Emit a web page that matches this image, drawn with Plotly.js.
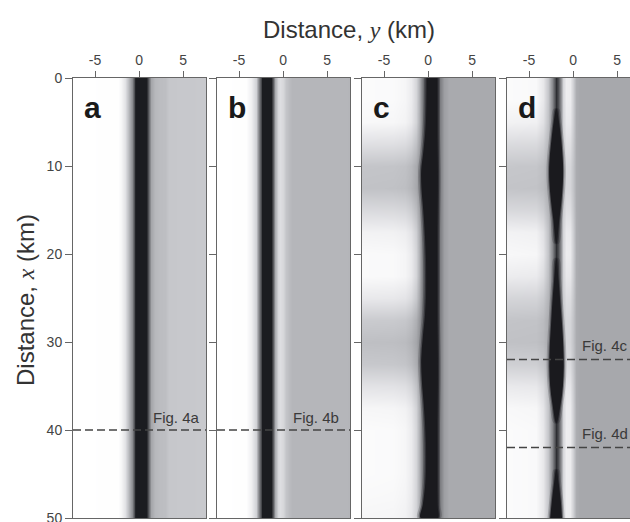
<!DOCTYPE html>
<html><head><meta charset="utf-8">
<script src="https://cdn.plot.ly/plotly-3.0.1.min.js"></script>
<style>html,body{margin:0;padding:0;overflow:hidden;background:#fff;width:630px;height:522px}</style>
</head><body><div id="chart" style="width:650px;height:522px"></div>
<script>
// ---------------- data ----------------
const yTickVals = [-5, 0, 5];            // across-strike distance y (km), top axes
const xTickVals = [0, 10, 20, 30, 40, 50]; // along-strike distance x (km), left axes
const panelLetters = ['a', 'b', 'c', 'd'];

// gray level (0 = black, 255 = white) across y, panels a and b (uniform along x)
const aY    = [-7.5, -2.4, -2.0, -1.6, -1.2, -0.85, -0.6, -0.45, -0.3, 0.75, 0.9, 1.1, 1.4, 1.8, 2.3, 3.0, 3.4, 7.6];
const aGray = [255, 254, 246, 226, 192, 140, 80, 36, 27, 27, 48, 110, 165, 184, 188, 190, 199, 201];
const bY    = [-7.5, -4.2, -3.6, -3.1, -2.8, -2.55, -2.4, -1.35, -1.15, -0.9, -0.6, -0.3, 0.0, 0.3, 0.7, 1.0, 7.6];
const bGray = [255, 254, 240, 210, 150, 70, 27, 27, 90, 170, 215, 222, 215, 196, 188, 182, 181];

// panel c: profile in bright rows and in shaded rows, and shading along x
const cY         = [-7.5, -4.0, -2.6, -1.9, -1.4, -1.0, -0.65, -0.35, -0.1, 0.95, 1.15, 1.4, 1.8, 2.4, 7.6];
const cGrayWhite = [251, 250, 246, 236, 214, 180, 130, 75, 30, 27, 70, 125, 158, 169, 169];
const cGrayShade = [191, 190, 187, 179, 165, 145, 115, 72, 30, 27, 70, 125, 158, 169, 169];
const cRowX  = [0, 2.5, 5, 7.5, 10, 12.5, 15, 17.5, 20, 22.5, 25, 27.5, 30, 32.5, 35, 37.5, 40, 42.5, 45, 47.5, 50];
const cShade = [0, 0, 0.05, 0.45, 0.9, 0.95, 0.55, 0.15, 0.02, 0.02, 0.3, 0.8, 1, 0.85, 0.4, 0.08, 0, 0, 0, 0.03, 0.08];
// panel c: black band edges
const cBandX     = [0, 3, 6, 8.5, 10.5, 12.5, 15, 18, 21, 24, 27, 29.5, 32, 34.5, 37, 40, 43, 46, 48.5, 50];
const cBandLeft  = [-0.1, -0.15, -0.3, -0.55, -0.78, -0.75, -0.55, -0.35, -0.22, -0.2, -0.35, -0.6, -0.78, -0.7, -0.5, -0.3, -0.2, -0.3, -0.6, -0.85];
const cBandRight = [1.0, 1.0, 1.0, 1.05, 1.1, 1.1, 1.05, 1.0, 1.0, 1.0, 1.0, 1.05, 1.1, 1.1, 1.05, 1.0, 1.0, 1.0, 1.05, 1.1];

// panel d: profile in bright rows and in shaded rows, and shading along x
const dY         = [-7.5, -4.2, -3.4, -2.8, -2.4, -2.1, -1.9, -1.7, -1.4, -1.1, -0.8, -0.35, -0.05, 0.3, 0.8, 7.6];
const dGrayWhite = [251, 249, 232, 198, 140, 75, 45, 75, 150, 215, 238, 236, 208, 173, 167, 167];
const dGrayShade = [193, 192, 185, 170, 125, 72, 45, 72, 140, 198, 214, 212, 195, 171, 167, 167];
const dRowX  = [0, 2.5, 5, 7.5, 10, 12.5, 15, 17.5, 20, 22.5, 25, 27.5, 30, 32.5, 35, 37.5, 40, 42.5, 45, 47.5, 50];
const dShade = [0, 0, 0.15, 0.55, 0.9, 0.95, 0.6, 0.15, 0.05, 0.25, 0.65, 0.95, 1, 0.75, 0.3, 0.05, 0, 0, 0, 0, 0];
// panel d: black lenses (edges vs x)
const dLens1X     = [3.5, 5, 7, 9, 10.5, 12, 14, 16, 18.8];
const dLens1Left  = [-1.9, -2.2, -2.45, -2.65, -2.72, -2.68, -2.5, -2.25, -1.9];
const dLens1Right = [-1.9, -1.6, -1.35, -1.18, -1.12, -1.16, -1.32, -1.55, -1.9];
const dLens2X     = [20.5, 23, 25.5, 28, 30.5, 32.8, 35, 37, 39.2];
const dLens2Left  = [-1.9, -2.15, -2.35, -2.5, -2.65, -2.7, -2.6, -2.35, -1.9];
const dLens2Right = [-1.9, -1.65, -1.45, -1.25, -1.1, -1.05, -1.15, -1.4, -1.9];
const dLens3X     = [44.5, 46, 48, 50, 51];
const dLens3Left  = [-1.9, -2.15, -2.4, -2.6, -2.7];
const dLens3Right = [-1.9, -1.65, -1.4, -1.25, -1.15];

// profile lines marked in the panels
const cutA = [40], cutB = [40], cutD = [32, 42];
const cutLabelsA = ['Fig. 4a'], cutLabelsB = ['Fig. 4b'], cutLabelsD = ['Fig. 4c', 'Fig. 4d'];

// ---------------- figure ----------------
const W = 650, H = 522;
const panelPx = [[73, 206], [217, 350], [362, 495], [507, 640]];
const topPx = 78, botPx = 518;
const yDom = [(H - botPx) / H, (H - topPx) / H];
const XR = [-7.5, 7.6];
const ink = '#666';
const FONT = 'Liberation Sans, Arial, sans-serif';
const bandColor = 'rgb(26,26,30)';
const grayScale = [
  [0, 'rgb(16,16,20)'], [0.1, 'rgb(26,26,30)'], [0.4, 'rgb(102,103,107)'],
  [0.66, 'rgb(168,169,173)'], [0.78, 'rgb(198,199,203)'], [0.9, 'rgb(229,229,232)'], [1, 'rgb(255,255,255)']
];

function mixRows(white, shade, mix) {
  return mix.map(m => white.map((w, j) => w * (1 - m) + shade[j] * m));
}
function heat(xs, ys, z, i) {
  return {
    type: 'heatmap', x: xs, y: ys, z: z, zmin: 0, zmax: 255, colorscale: grayScale,
    showscale: false, zsmooth: 'best', hoverinfo: 'skip',
    xaxis: i ? 'x' + (i + 1) : 'x', yaxis: i ? 'y' + (i + 1) : 'y'
  };
}
function poly(xs, left, right, off, color, op, i, closeTip) {
  const px = [], py = [];
  for (let k = 0; k < xs.length; k++) { px.push(left[k] - off); py.push(xs[k]); }
  for (let k = xs.length - 1; k >= 0; k--) {
    if (off === 0 && right[k] === left[k]) continue;
    px.push(right[k] + off); py.push(xs[k]);
  }
  if (closeTip) { px.push(px[0]); py.push(py[0]); }
  return {
    type: 'scatter', mode: 'lines', x: px, y: py, fill: 'toself', fillcolor: color,
    opacity: op, line: { width: 0, shape: 'spline', color: color }, hoverinfo: 'skip',
    showlegend: false, xaxis: i ? 'x' + (i + 1) : 'x', yaxis: i ? 'y' + (i + 1) : 'y'
  };
}

const traces = [];
traces.push(heat(aY, [0, 50], [aGray, aGray], 0));
traces.push(heat(bY, [0, 50], [bGray, bGray], 1));
traces.push(heat(cY, cRowX, mixRows(cGrayWhite, cGrayShade, cShade), 2));
traces.push(heat(dY, dRowX, mixRows(dGrayWhite, dGrayShade, dShade), 3));

// band in c
traces.push(poly(cBandX, cBandLeft, cBandRight, 0.35, bandColor, 0.2, 2, false));
traces.push(poly(cBandX, cBandLeft, cBandRight, 0.15, bandColor, 0.4, 2, false));
traces.push(poly(cBandX, cBandLeft, cBandRight, 0, bandColor, 1, 2, false));
// lenses in d
[[dLens1X, dLens1Left, dLens1Right], [dLens2X, dLens2Left, dLens2Right], [dLens3X, dLens3Left, dLens3Right]].forEach(L => {
  traces.push(poly(L[0], L[1], L[2], 0.3, bandColor, 0.2, 3, true));
  traces.push(poly(L[0], L[1], L[2], 0.12, bandColor, 0.4, 3, true));
  traces.push(poly(L[0], L[1], L[2], 0, bandColor, 1, 3, true));
});

const layout = {
  width: W, height: H, margin: { l: 0, r: 0, t: 0, b: 0 },
  paper_bgcolor: '#fff', plot_bgcolor: '#fff', showlegend: false,
  font: { family: FONT, size: 14, color: '#444' },
  shapes: [], annotations: []
};

panelPx.forEach((p, i) => {
  const sx = i ? String(i + 1) : '';
  layout['xaxis' + sx] = {
    domain: [p[0] / W, p[1] / W], range: XR, side: 'top', anchor: 'y' + sx,
    tickmode: 'array', tickvals: yTickVals, ticktext: yTickVals.map(String),
    ticks: 'outside', ticklen: 6, tickwidth: 1, tickcolor: ink, ticklabeloverflow: 'allow',
    tickfont: { family: FONT, size: 14, color: '#444' },
    showline: true, linecolor: ink, linewidth: 1, mirror: true,
    showgrid: false, zeroline: false, fixedrange: true
  };
  layout['yaxis' + sx] = {
    domain: yDom, range: [50, 0], anchor: 'x' + sx,
    tickmode: 'array', tickvals: xTickVals, ticktext: xTickVals.map(String),
    ticks: 'outside', ticklen: 7, tickwidth: 1, tickcolor: ink, ticklabeloverflow: 'allow',
    showticklabels: i === 0, tickfont: { family: FONT, size: 14, color: '#444' },
    showline: true, linecolor: ink, linewidth: 1, mirror: true,
    showgrid: false, zeroline: false, fixedrange: true
  };
  layout.annotations.push({
    xref: 'x' + sx, yref: 'y' + sx, x: -6.5, y: 3.36, xanchor: 'left', yanchor: 'middle',
    text: '<b>' + panelLetters[i] + '</b>', showarrow: false,
    font: { family: FONT, size: 30, color: '#1a1a1a' }
  });
});

function addCuts(cuts, labels, i, labelX, labelDy) {
  const sx = i ? String(i + 1) : '';
  cuts.forEach((c, k) => {
    layout.shapes.push({
      type: 'line', xref: 'x' + sx, yref: 'y' + sx, x0: XR[0], x1: XR[1], y0: c, y1: c,
      line: { color: '#444', width: 1.5, dash: '8px,4px' }
    });
    layout.annotations.push({
      xref: 'x' + sx, yref: 'y' + sx, x: labelX, y: c - labelDy, xanchor: 'right', yanchor: 'middle',
      text: labels[k], showarrow: false, font: { family: FONT, size: 15, color: '#3a3a3a' }
    });
  });
}
addCuts(cutA, cutLabelsA, 0, 7.1, 1.45);
addCuts(cutB, cutLabelsB, 1, 6.6, 1.45);
addCuts(cutD, cutLabelsD, 3, 6.48, 1.55);

layout.annotations.push({
  xref: 'paper', yref: 'paper', x: 349 / W, y: 1 - 29 / H, xanchor: 'center', yanchor: 'middle',
  text: 'Distance, <span style="font-family:Liberation Serif;font-style:italic">y</span> (km)',
  showarrow: false, font: { family: FONT, size: 24, color: '#333' }
});
layout.annotations.push({
  xref: 'paper', yref: 'paper', x: 25 / W, y: 1 - 300 / H, xanchor: 'center', yanchor: 'middle',
  textangle: -90,
  text: 'Distance, <span style="font-family:Liberation Serif;font-style:italic">x</span> (km)',
  showarrow: false, font: { family: FONT, size: 24, color: '#333' }
});

Plotly.newPlot('chart', traces, layout, { staticPlot: true, displayModeBar: false });
</script></body></html>
